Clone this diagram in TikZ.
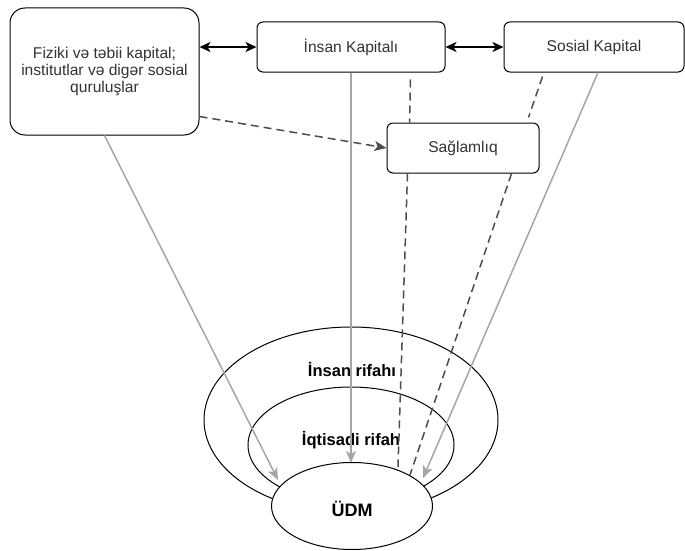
\documentclass[tikz,border=0pt]{standalone}
\usepackage{fontspec}
\setmainfont{Liberation Sans}
\usetikzlibrary{arrows.meta,shapes.geometric,calc}
\definecolor{txt}{HTML}{333333}
\definecolor{lgray}{HTML}{A6A6A6}
\definecolor{dgray}{HTML}{4D4D4D}
\begin{document}
\begin{tikzpicture}[x=1pt,y=-1pt,
  box/.style={draw=black, rounded corners=6pt, fill=white, text=txt,
    font=\fontsize{15.6}{16.6}\selectfont, align=center, inner sep=0pt, line width=1pt},
  ell/.style={ellipse, draw=black, fill=white, inner sep=0pt, line width=1pt},
  elabel/.style={font=\bfseries\fontsize{16.5}{18}\selectfont, text=black, inner sep=0pt},
  bothway/.style={{Stealth[length=11pt,width=10pt,inset=3pt]}-{Stealth[length=11pt,width=10pt,inset=3pt]}, line width=1.6pt, black},
  grayarrow/.style={-{Stealth[length=12pt,width=10pt,inset=3pt]}, lgray, line width=1.5pt},
  dashline/.style={dgray, line width=1.5pt, dash pattern=on 8pt off 5pt},
  dasharrow/.style={dashline, -{Stealth[length=12pt,width=10pt,inset=3pt]}}
]
\useasboundingbox (0,0) rectangle (685,551);

% ellipses (background)
\node[ell, minimum width=294pt, minimum height=186pt] (outer) at (351,420) {};
\node[ell, minimum width=206pt, minimum height=116pt] (middle) at (351,445) {};
\node[elabel] (lblouter) at (352,370) {İnsan rifahı};
\node[elabel] (lblmiddle) at (351,440) {İqtisadi rifah};

% boxes
\node[box, rounded corners=15pt, minimum width=189pt, minimum height=127pt] (fiz) at (104.5,71.5)
  {Fiziki və təbii kapital;\\institutlar və digər sosial\\quruluşlar};
\node[box, minimum width=188pt, minimum height=50pt] (ins) at (351,47) {İnsan Kapitalı};
\node[box, minimum width=180pt, minimum height=50pt] (sos) at (594,47) {Sosial Kapital};
\node[box, minimum width=152pt, minimum height=50pt] (sag) at (463,148) {Sağlamlıq};

% end points on GDP ellipse
\coordinate (t1) at (278,480);
\coordinate (t2) at (351,463);
\coordinate (t3) at (423,478);
\coordinate (d1) at (398,467);
\coordinate (d2) at (410,475);

% connectors
\draw[bothway] (ins.west -| fiz.east) -- (ins.west);
\draw[bothway] (ins.east) -- (sos.west);
\draw[dasharrow] ($(fiz.south east)+(0,-19)$) -- (sag.west);
\draw[dashline] ($(ins.south east)+(-35,7)$) -- ($(sag.north west)+(23,0)$);
\draw[dashline] ($(sos.south west)+(39,4)$) -- ($(sag.north east)+(-11,-5)$);
\draw[dashline] ($(sag.south west)+(21,0)$) -- (d1);
\draw[dashline] ($(sag.south east)+(-28,0)$) -- (d2);
\draw[grayarrow] (fiz.south) -- (t1);
\draw[grayarrow] (ins.south) -- (t2);
\draw[grayarrow] ($(sos.south)+(4,0)$) -- (t3);

% GDP
\node[ell, minimum width=161pt, minimum height=87pt] (udm) at (352,506) {};
\node[elabel, font=\bfseries\fontsize{18}{20}\selectfont] (lbludm) at (352,509) {ÜDM};
\end{tikzpicture}
\end{document}
